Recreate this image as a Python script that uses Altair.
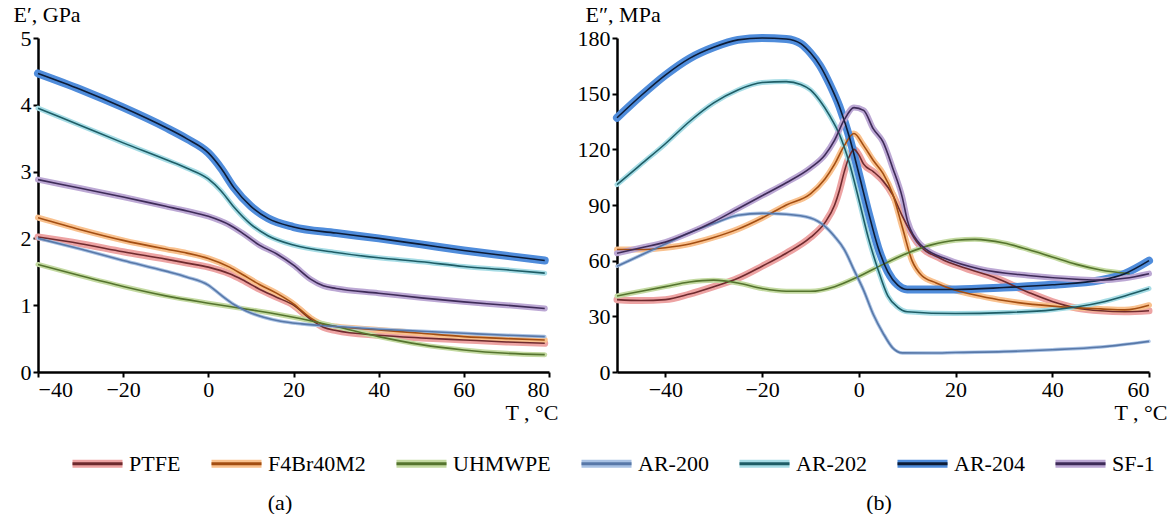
import altair as alt
import pandas as pd

# ---------------- series / styles ----------------
SERIES = ["PTFE", "F4Br40M2", "UHMWPE", "AR-200", "AR-202", "AR-204", "SF-1"]
HALO = ["#EDA3A3", "#F9C18E", "#C4DAA2", "#A9C2E4", "#A6DCE5", "#4F8CDB", "#BCA8D4"]
CENTER = ["#6E2A2E", "#A34E12", "#55742E", "#5878A8", "#1E5D66", "#0D1C36", "#3E2B58"]
HALO_W = [7, 6, 5, 3.5, 5, 8, 6]
CAPTIONS = ["(a)", "(b)"]

# ---------------- (a) storage modulus E', GPa ----------------
PTFE_T1 = [-40, -30, -20, -10, -5, 0, 5, 8, 12, 16, 20, 24, 27, 30, 40, 50, 60, 70, 79]
PTFE_E1 = [2.02, 1.92, 1.80, 1.69, 1.63, 1.57, 1.47, 1.38, 1.24, 1.12, 1.00, 0.79, 0.67, 0.62, 0.55, 0.51, 0.48, 0.45, 0.43]
F4_T1 = [-40, -30, -20, -10, -5, 0, 5, 8, 12, 16, 20, 24, 27, 30, 40, 50, 60, 70, 79]
F4_E1 = [2.31, 2.13, 1.97, 1.84, 1.78, 1.70, 1.57, 1.46, 1.31, 1.18, 1.02, 0.81, 0.71, 0.68, 0.63, 0.58, 0.53, 0.50, 0.48]
UHMWPE_T1 = [-40, -30, -20, -10, 0, 10, 20, 30, 40, 50, 60, 70, 79]
UHMWPE_E1 = [1.61, 1.44, 1.28, 1.14, 1.03, 0.93, 0.82, 0.68, 0.53, 0.41, 0.33, 0.28, 0.26]
AR200_T1 = [-40, -30, -20, -10, -5, 0, 3, 6, 9, 13, 17, 22, 30, 40, 50, 60, 70, 79]
AR200_E1 = [2.00, 1.84, 1.67, 1.51, 1.42, 1.30, 1.15, 1.01, 0.91, 0.82, 0.76, 0.72, 0.68, 0.64, 0.61, 0.58, 0.55, 0.53]
AR202_T1 = [-40, -30, -20, -10, -5, 0, 3, 6, 10, 14, 20, 30, 40, 50, 60, 70, 79]
AR202_E1 = [3.95, 3.69, 3.43, 3.18, 3.05, 2.89, 2.71, 2.47, 2.21, 2.04, 1.90, 1.79, 1.71, 1.65, 1.58, 1.53, 1.48]
AR204_T1 = [-40, -30, -20, -10, -5, 0, 3, 6, 10, 14, 20, 30, 40, 50, 60, 70, 79]
AR204_E1 = [4.47, 4.23, 3.96, 3.66, 3.49, 3.28, 3.05, 2.76, 2.48, 2.30, 2.17, 2.08, 2.00, 1.91, 1.82, 1.74, 1.67]
SF1_T1 = [-40, -30, -20, -10, -5, 0, 5, 8, 12, 16, 20, 24, 27, 30, 40, 50, 60, 70, 79]
SF1_E1 = [2.88, 2.75, 2.62, 2.48, 2.41, 2.33, 2.20, 2.08, 1.90, 1.77, 1.60, 1.39, 1.29, 1.25, 1.18, 1.11, 1.05, 1.00, 0.95]

# ---------------- (b) loss modulus E'', MPa ----------------
PTFE_T2 = [-50, -45, -40, -35, -30, -25, -20, -15, -10, -7, -5, -4, -3, -2, -1, 0, 1, 3, 5, 7, 9, 12, 17, 22, 28, 35, 40, 45, 50, 55, 60]
PTFE_E2 = [39, 38.5, 39, 42, 46, 50.5, 57, 64, 72.5, 80.5, 90, 98, 108, 116, 120, 117, 112, 108, 103, 95.5, 84, 70, 61, 56, 51, 43, 38, 34.5, 33, 32.5, 33]
F4_T2 = [-50, -45, -40, -35, -30, -25, -20, -15, -10, -7, -5, -3, -1, 1, 3, 5, 7, 9, 11, 13, 16, 20, 25, 30, 40, 50, 55, 60]
F4_E2 = [66, 66, 67, 69, 72.5, 77, 83, 90, 96, 104, 112, 122, 128.5, 122, 114, 107, 96, 78, 60, 52, 48, 44, 41, 38.5, 35.5, 34, 33.5, 36]
UHMWPE_T2 = [-50, -45, -40, -35, -30, -25, -20, -15, -10, -5, 0, 5, 10, 15, 20, 24, 30, 35, 40, 45, 50, 56]
UHMWPE_E2 = [41, 43.5, 46, 48.5, 49.5, 48, 45, 43.5, 43.5, 46, 51.5, 58, 64, 68.5, 71, 71.5, 69.5, 66, 62, 58, 55, 53]
AR200_T2 = [-50, -45, -40, -35, -30, -25, -20, -15, -10, -7, -5, -3, -1, 1, 3, 5, 7, 9, 15, 20, 30, 40, 50, 60]
AR200_E2 = [57, 63, 69, 75, 80, 84.5, 85.5, 85, 83, 78.5, 73, 66, 55, 44, 31, 21, 13, 10.3, 10.2, 10.5, 11, 12, 13.5, 16.5]
AR202_T2 = [-50, -45, -40, -35, -30, -25, -20, -15, -12, -10, -8, -6, -4, -2, 0, 2, 4, 6, 8, 10, 20, 30, 40, 50, 55, 60]
AR202_E2 = [101, 112, 123, 135, 145, 152, 156, 156.5, 155, 152, 146, 138, 128, 113, 93, 72, 55, 41, 35, 32.5, 31.5, 32, 33.5, 37.5, 41, 45]
AR204_T2 = [-50, -45, -40, -35, -30, -25, -20, -15, -12, -10, -8, -6, -4, -2, 0, 2, 4, 6, 8, 10, 20, 30, 40, 50, 55, 60]
AR204_E2 = [137, 149, 160, 169, 175, 179, 180, 179.5, 177, 172, 165, 155, 143, 127, 107, 86, 67, 54, 47, 44.5, 44.5, 45.5, 47, 49.5, 53, 60]
SF1_T2 = [-50, -45, -40, -35, -30, -25, -20, -15, -10, -7, -5, -3, -1, 1, 3, 5, 7, 9, 10, 12, 14, 18, 25, 35, 45, 50, 55, 60]
SF1_E2 = [64, 67, 70, 75, 81, 88, 95, 102, 110, 117, 125, 136, 142.5, 141, 131, 124, 110, 94, 82, 71, 66, 61, 55.5, 52, 50, 49.5, 50.5, 53]

X_TICKS_A = [-40, -20, 0, 20, 40, 60, 80]
Y_TICKS_A = [0, 1, 2, 3, 4, 5]
X_TICKS_B = [-40, -20, 0, 20, 40, 60]
Y_TICKS_B = [0, 30, 60, 90, 120, 150, 180]

FONT = "Liberation Serif"
FS = 22

# legend symbols: a band built from stacked strokes, and a single centre stroke
BAND_PATH = "M-1,-0.1H1M-1,-0.05H1M-1,0H1M-1,0.05H1M-1,0.1H1"
LINE_PATH = "M-1,0H1"


def frame(pairs):
    rows = []
    for name, (ts, es) in zip(SERIES, pairs):
        hw = HALO_W[SERIES.index(name)]
        for t, e in zip(ts, es):
            rows.append({"series": name, "T": t, "E": e, "hw": hw})
    return pd.DataFrame(rows)


df_a = frame([(PTFE_T1, PTFE_E1), (F4_T1, F4_E1), (UHMWPE_T1, UHMWPE_E1), (AR200_T1, AR200_E1),
              (AR202_T1, AR202_E1), (AR204_T1, AR204_E1), (SF1_T1, SF1_E1)])
df_b = frame([(PTFE_T2, PTFE_E2), (F4_T2, F4_E2), (UHMWPE_T2, UHMWPE_E2), (AR200_T2, AR200_E2),
              (AR202_T2, AR202_E2), (AR204_T2, AR204_E2), (SF1_T2, SF1_E2)])

LEG_X = 33
LEG_Y = 399


def legend(path, label_opacity, values=None):
    kw = dict(orient="none", legendX=LEG_X, legendY=LEG_Y, direction="horizontal", columns=7,
              title=None, labelFont=FONT, labelFontSize=FS, labelColor="black",
              labelOpacity=label_opacity, symbolSize=2500, symbolType=path,
              symbolStrokeWidth=3, symbolOpacity=1, labelOffset=5, columnPadding=24)
    if values is not None:
        kw["values"] = values
    return alt.Legend(**kw)


def panel(df, xdom, xticks, ydom, yticks, ytitle, ytitle_x, xtitle_x, width, caption, cap_x):
    x = alt.X("T:Q", scale=alt.Scale(domain=xdom, nice=False, zero=False),
              axis=alt.Axis(values=xticks, title="T , °C", titleX=xtitle_x, titleY=40,
                            titleAlign="right", titleBaseline="middle", format="d"))
    y = alt.Y("E:Q", scale=alt.Scale(domain=ydom, nice=False, zero=False),
              axis=alt.Axis(values=yticks, title=ytitle, titleAngle=0, titleX=ytitle_x, titleY=-24,
                            titleAlign="left", titleBaseline="middle", format="d"))
    halo = alt.Chart(df).mark_line(interpolate="monotone", strokeCap="round").encode(
        x=x, y=y,
        color=alt.Color("series:N", scale=alt.Scale(domain=SERIES, range=HALO),
                        legend=legend(BAND_PATH, 1)),
        strokeWidth=alt.StrokeWidth("hw:Q", scale=None),
    )
    center = alt.Chart(df).mark_line(interpolate="monotone", strokeWidth=1.6).encode(
        x=x, y=y,
        stroke=alt.Stroke("series:N", scale=alt.Scale(domain=SERIES[::-1], range=CENTER[::-1]),
                          legend=legend(LINE_PATH, 0, SERIES)),
    )
    cap = alt.Chart(pd.DataFrame({"caption": [caption]})).mark_text(
        font=FONT, fontSize=FS, color="black", align="center", baseline="middle"
    ).encode(text="caption:N", x=alt.value(cap_x), y=alt.value(465))
    return alt.layer(halo, center, cap).properties(width=width, height=334)


left = panel(df_a, [-40, 80], X_TICKS_A, [0, 5], Y_TICKS_A, "E′, GPa", -25, 520, 511, CAPTIONS[0], 242)
right = panel(df_b, [-50, 60], X_TICKS_B, [0, 180], Y_TICKS_B, "E″, MPa", -32, 550, 532, CAPTIONS[1], 262)

chart = alt.hconcat(left, right, spacing=68, bounds="flush").configure_axis(
    grid=False, domainColor="black", domainWidth=2.5, tickColor="black", tickWidth=2, tickSize=5,
    labelFont=FONT, labelFontSize=FS, labelColor="black", labelPadding=2,
    titleFont=FONT, titleFontSize=FS, titleColor="black", titleFontWeight="normal",
).configure_view(stroke=None).properties(
    padding={"left": 13, "top": 3, "right": 2, "bottom": 0},
    autosize=alt.AutoSizeParams(type="pad"),
)

chart.save("out.html", embed_options={"renderer": "svg", "actions": False})
